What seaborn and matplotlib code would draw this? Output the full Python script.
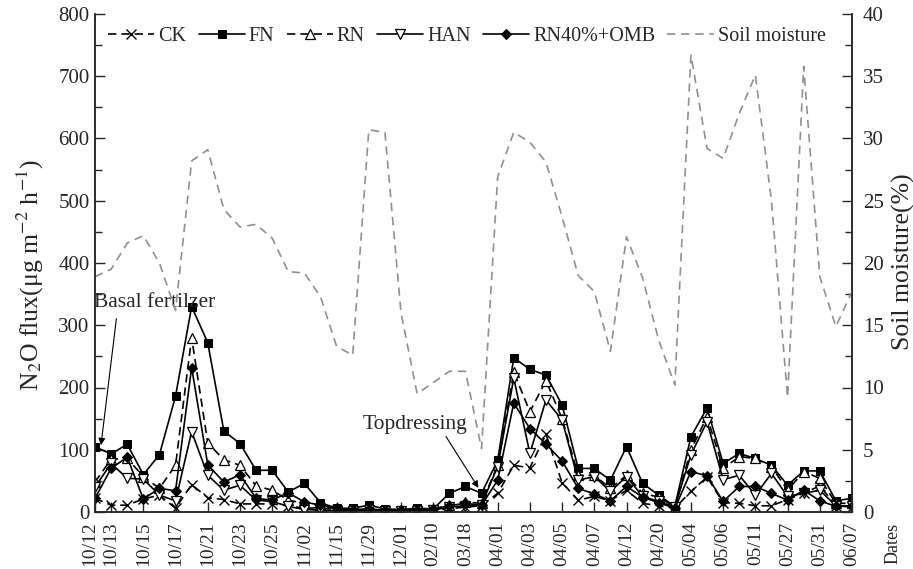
import numpy as np
import pandas as pd
import matplotlib
matplotlib.use("Agg")
import matplotlib.pyplot as plt
from matplotlib.ticker import MultipleLocator
from matplotlib.transforms import ScaledTranslation
import seaborn as sns

# =========================
# DATA
# =========================

tick_labels = ["10/12", "10/13", "10/15", "10/17", "10/21", "10/23", "10/25", "11/02",
               "11/15", "11/29", "12/01", "02/10", "03/18", "04/01", "04/03", "04/05",
               "04/07", "04/12", "04/20", "05/04", "05/06", "05/11", "05/27", "05/31", "06/07"]

ck = [22, 11, 11, 21, 27, 6, 44, 23, 20, 13, 13, 13, 10, 6, 7, 3, 2, 3, 2, 2, 2, 3, 5, 8,
      10, 30, 75, 71, 125, 47, 19, 25, 18, 35, 14, 10, 6, 33, 56, 15, 14, 10, 10, 20, 30, 42, 10, 8]
fn = [105, 93, 109, 60, 92, 186, 330, 272, 130, 110, 67, 67, 32, 46, 15, 6, 6, 11, 5, 4, 6, 5, 30, 41,
      30, 83, 248, 229, 220, 172, 70, 70, 51, 105, 46, 27, 9, 121, 167, 78, 94, 86, 75, 43, 66, 66, 18, 22]
rn = [48, 85, 86, 57, 38, 75, 280, 111, 84, 75, 42, 35, 19, 14, 11, 4, 3, 4, 3, 2, 3, 4, 12, 16,
      14, 75, 225, 161, 211, 150, 59, 59, 38, 59, 30, 24, 8, 100, 153, 70, 89, 86, 73, 35, 65, 54, 14, 14]
han = [40, 78, 54, 53, 27, 18, 129, 59, 35, 43, 19, 17, 9, 4, 3, 2, 2, 3, 2, 2, 2, 3, 8, 10,
       12, 73, 215, 94, 180, 148, 51, 57, 33, 57, 25, 17, 8, 92, 145, 52, 59, 27, 62, 25, 30, 35, 10, 10]
omb = [22, 70, 88, 21, 38, 34, 232, 76, 48, 60, 22, 19, 31, 16, 11, 6, 4, 5, 3, 3, 4, 5, 10, 14,
       11, 51, 175, 134, 109, 82, 38, 29, 18, 41, 24, 15, 6, 65, 58, 17, 41, 41, 30, 19, 35, 18, 9, 10]
soil = [18.9, 19.5, 21.6, 22.2, 20.0, 16.2, 28.2, 29.1, 24.3, 22.9, 23.1, 22.0, 19.3, 19.2, 17.3, 13.3,
        12.6, 30.7, 30.5, 16.0, 9.5, 10.4, 11.3, 11.3, 5.1, 26.9, 30.5, 29.7, 28.1, 23.7, 19.0, 17.7,
        12.9, 22.1, 18.8, 13.8, 10.2, 36.7, 29.2, 28.4, 32.0, 35.1, 25.0, 9.2, 35.8, 18.9, 14.9, 17.7]

n = len(fn)
idx = np.arange(n)
tick_idx = [0] + list(range(1, n - 1, 2)) + [n - 1]

# =========================
# STYLE
# =========================

sns.set_style("ticks")
plt.rcParams["font.family"] = ["Liberation Serif", "DejaVu Serif"]
plt.rcParams["mathtext.fontset"] = "stix"
plt.rcParams["axes.linewidth"] = 1.1

fig = plt.figure(figsize=(9.13, 5.69), dpi=100)
ax = fig.add_axes([95 / 913, 1 - 512 / 569, (852 - 95) / 913, (512 - 14) / 569])
ax2 = ax.twinx()

series = [
    ("CK", ck, dict(marker="x", linestyle=(0, (5, 3)), markersize=7, mew=1.0)),
    ("FN", fn, dict(marker="s", linestyle="-", markersize=6)),
    ("RN", rn, dict(marker="^", linestyle=(0, (5, 3)), markersize=7, markerfacecolor="white", mew=0.9)),
    ("HAN", han, dict(marker="v", linestyle="-", markersize=7, markerfacecolor="white", mew=0.9)),
    ("RN40%+OMB", omb, dict(marker="D", linestyle="-", markersize=5)),
]

for name, vals, kw in series:
    sns.lineplot(x=idx, y=vals, ax=ax, color="black", linewidth=1.2,
                 markeredgecolor="black", label=name, **kw)

sns.lineplot(x=idx, y=soil, ax=ax2, color="#909090", linewidth=1.2,
             linestyle=(0, (5, 3.5)), label="Soil moisture")

# =========================
# AXES
# =========================

ax.set_xlim(0, n - 1)
ax.set_ylim(0, 800)
ax2.set_ylim(0, 40)

ax.yaxis.set_major_locator(MultipleLocator(100))
ax.yaxis.set_minor_locator(MultipleLocator(50))
ax2.yaxis.set_major_locator(MultipleLocator(5))
ax2.yaxis.set_minor_locator(MultipleLocator(2.5))

ax.set_xticks(tick_idx)
ax.set_xticklabels(tick_labels, rotation=90, fontsize=14)
ax.tick_params(axis="x", direction="in", length=7, width=1.0, pad=7)
ax.tick_params(axis="y", which="major", direction="in", length=7, width=1.0, labelsize=15, pad=4)
ax.tick_params(axis="y", which="minor", direction="in", length=5, width=1.0)
ax2.tick_params(axis="y", which="major", direction="in", length=7, width=1.0, labelsize=15, pad=8)
ax2.tick_params(axis="y", which="minor", direction="in", length=5, width=1.0)

# first two date labels sit close together: nudge the first one left
first = ax.get_xticklabels()[0]
first.set_transform(first.get_transform() + ScaledTranslation(-0.05, 0, fig.dpi_scale_trans))

for a in (ax, ax2):
    a.spines["top"].set_visible(False)
    a.set_xlabel("")
    a.set_ylabel("")

# legend from both axes
h1, l1 = ax.get_legend_handles_labels()
h2, l2 = ax2.get_legend_handles_labels()
if ax2.get_legend():
    ax2.get_legend().remove()
ax.legend(h1 + h2, l1 + l2, loc="upper left", bbox_to_anchor=(0.0, 1.0), ncol=6,
          frameon=False, fontsize=14.5, handlelength=2.3, handletextpad=0.2,
          columnspacing=0.6, borderaxespad=0.25)

# =========================
# ANNOTATIONS
# =========================

ax.text(-0.05, 337, "Basal fertilzer", fontsize=15.5, ha="left", va="center")
ax.annotate("", xy=(0.35, 103), xytext=(1.35, 315),
            arrowprops=dict(arrowstyle="-|>", color="black", lw=0.8, mutation_scale=10))

ax.text(16.6, 140, "Topdressing", fontsize=15.5, ha="left", va="center")
ax.annotate("", xy=(23.9, 35), xytext=(21.7, 125),
            arrowprops=dict(arrowstyle="-|>", color="black", lw=0.8, mutation_scale=10))

fig.text(30 / 913, 1 - 275 / 569, "N$_2$O flux(μg m$^{-2}$ h$^{-1}$)", rotation=90,
         ha="center", va="center", fontsize=18.5)
fig.text(903 / 913, 1 - 262 / 569, "Soil moisture(%)", rotation=90,
         ha="center", va="center", fontsize=18.5)
fig.text(893 / 913, 1 - 543 / 569, "Dates", rotation=90, ha="center", va="center", fontsize=13)

fig.savefig("out.png", dpi=100)
